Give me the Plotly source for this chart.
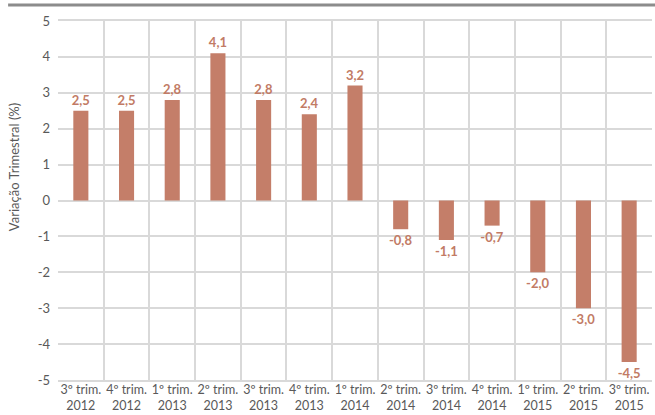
import plotly.graph_objects as go

# Quarterly variation (%) by quarter
quarters = [
    "3º trim.<br>2012", "4º trim.<br>2012",
    "1º trim.<br>2013", "2º trim.<br>2013", "3º trim.<br>2013", "4º trim.<br>2013",
    "1º trim.<br>2014", "2º trim.<br>2014", "3º trim.<br>2014", "4º trim.<br>2014",
    "1º trim.<br>2015", "2º trim.<br>2015", "3º trim.<br>2015",
]
variation = [2.5, 2.5, 2.8, 4.1, 2.8, 2.4, 3.2, -0.8, -1.1, -0.7, -2.0, -3.0, -4.5]

y_ticks = [-5, -4, -3, -2, -1, 0, 1, 2, 3, 4, 5]
y_tick_text = [str(v) for v in y_ticks]
y_title = "Variação Trimestral (%)"

bar_color = "#C47E69"
label_color = "#C27B65"
grid_color = "#D9D9D9"
text_gray = "#595959"
font_family = "Lato, 'Open Sans', sans-serif"

labels = [f"{v:.1f}".replace(".", ",") for v in variation]

fig = go.Figure(
    go.Bar(
        x=quarters,
        y=variation,
        width=0.33,
        marker=dict(color=bar_color, line=dict(width=0)),
        text=labels,
        textposition="outside",
        constraintext="none",
        textfont=dict(color=label_color, size=13, family=font_family, weight="bold"),
        cliponaxis=False,
        hoverinfo="skip",
    )
)

fig.update_layout(
    width=655,
    height=415,
    margin=dict(l=58, r=3, t=21, b=35, autoexpand=False),
    paper_bgcolor="white",
    plot_bgcolor="white",
    showlegend=False,
    font=dict(family=font_family, color=text_gray, size=13),
    xaxis=dict(
        type="category",
        tickson="boundaries",
        tickangle=0,
        automargin=False,
        showgrid=True,
        gridcolor=grid_color,
        gridwidth=1.5,
        ticks="",
        ticklabelstandoff=-3,
        showline=True,
        linecolor=grid_color,
        linewidth=1.5,
        mirror=True,
        tickfont=dict(size=12.5, color=text_gray),
        range=[-0.5, len(quarters) - 0.5],
    ),
    yaxis=dict(
        range=[-5, 5],
        tickvals=y_ticks,
        ticktext=y_tick_text,
        automargin=False,
        showgrid=True,
        gridcolor=grid_color,
        gridwidth=1.5,
        zeroline=True,
        zerolinecolor=grid_color,
        zerolinewidth=1.5,
        showline=False,
        ticks="",
        ticklabelstandoff=7,
        tickfont=dict(size=13, color=text_gray),
    ),
    annotations=[
        dict(
            text=y_title, textangle=-90, showarrow=False,
            xref="paper", yref="paper", x=-0.074, y=0.593,
            xanchor="center", yanchor="middle",
            font=dict(size=13, color=text_gray),
        )
    ],
    shapes=[
        dict(
            type="line", xref="paper", yref="paper",
            x0=-0.084, x1=1.006, y0=1.0446, y1=1.0446,
            line=dict(color="#8C8C8C", width=3),
        )
    ],
)

fig.write_html("out.html")
